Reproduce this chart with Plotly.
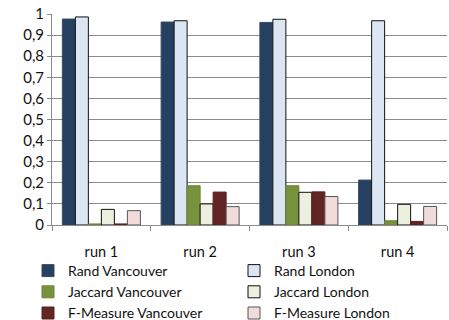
import plotly.graph_objects as go

categories = ["run 1", "run 2", "run 3", "run 4"]
series_names = ["Rand Vancouver", "Rand London", "Jaccard Vancouver",
                "Jaccard London", "F-Measure Vancouver", "F-Measure London"]
rand_vancouver = [0.976, 0.962, 0.960, 0.213]
rand_london = [0.986, 0.968, 0.975, 0.968]
jaccard_vancouver = [0.005, 0.186, 0.186, 0.020]
jaccard_london = [0.074, 0.100, 0.155, 0.098]
fmeasure_vancouver = [0.005, 0.156, 0.157, 0.017]
fmeasure_london = [0.068, 0.087, 0.135, 0.088]
y_ticks = [0, 0.1, 0.2, 0.3, 0.4, 0.5, 0.6, 0.7, 0.8, 0.9, 1]

values = [rand_vancouver, rand_london, jaccard_vancouver,
          jaccard_london, fmeasure_vancouver, fmeasure_london]
fills = ["#254061", "#DCE6F2", "#77933C", "#EBF1DE", "#632523", "#F2DCDB"]
outlines = ["#3a4a5e", "#111111", "#6a8535", "#111111", "#5a2020", "#555555"]

FONT = "Lato"
fig = go.Figure()
for name, vals, fc, lc in zip(series_names, values, fills, outlines):
    fig.add_trace(go.Bar(
        name=name, x=categories, y=vals,
        marker=dict(color=fc, line=dict(color=lc, width=1)),
    ))

fig.update_layout(
    width=449, height=320,
    margin=dict(l=52, r=2, t=14, b=95, autoexpand=False),
    barmode="group", bargap=0.21, bargroupgap=0,
    plot_bgcolor="white", paper_bgcolor="white",
    separators=", ",
    font=dict(family=FONT, size=14, color="#111111"),
    legend=dict(
        orientation="h",
        x=(28 - 52) / 395, y=-(255 - 225) / 211, xanchor="left", yanchor="top",
        entrywidth=161, entrywidthmode="pixels",
        font=dict(family=FONT, size=14, color="#111111"),
        itemwidth=30, tracegroupgap=0, bgcolor="rgba(0,0,0,0)",
        traceorder="normal",
    ),
    showlegend=True,
)
fig.update_yaxes(
    range=[0, 1], tickvals=y_ticks, showgrid=True, gridcolor="#8c8c8c",
    gridwidth=1, showline=True, linecolor="#8c8c8c", linewidth=1,
    ticks="outside", ticklen=4, tickcolor="#8c8c8c", zeroline=False,
    tickfont=dict(family=FONT, size=15),
)
fig.update_xaxes(
    showline=True, linecolor="#8c8c8c", linewidth=1, ticks="outside",
    tickson="boundaries", ticklen=5, tickcolor="#8c8c8c",
    ticklabelstandoff=14, tickfont=dict(family=FONT, size=14.5),
)
fig.write_html("out.html")
